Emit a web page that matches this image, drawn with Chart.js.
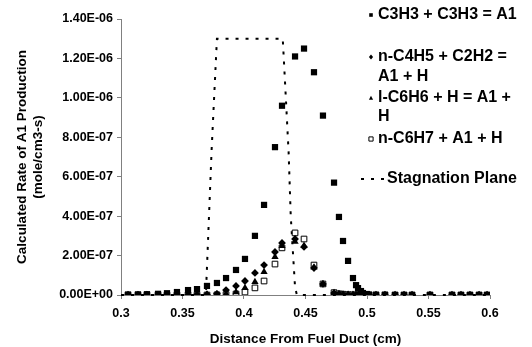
<!DOCTYPE html>
<html>
<head>
<meta charset="utf-8">
<script src="https://cdn.jsdelivr.net/npm/chart.js@4.4.0/dist/chart.umd.min.js"></script>
<style>
    html, body { margin: 0; padding: 0; background: #fff; }
    #wrap { width: 532px; height: 347px; }
</style>
</head>
<body>
<div id="wrap"><canvas id="rateChart" width="532" height="347"></canvas></div>
<script>
const distance = [
    0.3057, 0.3138, 0.3211, 0.3301, 0.3374, 0.3455, 0.3545, 0.3618, 0.3699, 0.3780,
    0.3854, 0.3935, 0.4008, 0.4089, 0.4163, 0.4252, 0.4309, 0.4415, 0.4488, 0.4569,
    0.4642, 0.4732, 0.4772, 0.4805, 0.4846, 0.4886, 0.4911, 0.4927, 0.4951, 0.4967,
    0.5000, 0.5016, 0.5073, 0.5146, 0.5228, 0.5301, 0.5366, 0.5512, 0.5691, 0.5764,
    0.5837, 0.5911, 0.5976
];
const c3h3Rate = [
    0.002e-6, 0.003e-6, 0.004e-6, 0.006e-6, 0.009e-6, 0.015e-6, 0.025e-6, 0.030e-6, 0.046e-6, 0.061e-6,
    0.086e-6, 0.127e-6, 0.183e-6, 0.300e-6, 0.457e-6, 0.750e-6, 0.960e-6, 1.210e-6, 1.250e-6, 1.130e-6,
    0.910e-6, 0.570e-6, 0.396e-6, 0.274e-6, 0.173e-6, 0.086e-6, 0.050e-6, 0.035e-6, 0.020e-6, 0.010e-6,
    0.005e-6, 0.002e-6, 0.001e-6, 0.001e-6, 0, 0, 0, 0, 0, 0,
    0, 0, 0
];
const nC4H5Rate = [
    0, 0, 0, 0, 0, 0.001e-6, 0.001e-6, 0.002e-6, 0.003e-6, 0.006e-6,
    0.025e-6, 0.046e-6, 0.071e-6, 0.112e-6, 0.152e-6, 0.218e-6, 0.264e-6, 0.284e-6, 0.244e-6, 0.137e-6,
    0.056e-6, 0.010e-6, 0.005e-6, 0.003e-6, 0.002e-6, 0.001e-6, 0.001e-6, 0, 0, 0,
    0, 0, 0, 0, 0, 0, 0, 0, 0, 0,
    0, 0, 0
];
const lC6H6Rate = [
    0, 0, 0, 0, 0, 0, 0, 0, 0.001e-6, 0.003e-6,
    0.006e-6, 0.015e-6, 0.036e-6, 0.066e-6, 0.117e-6, 0.193e-6, 0.249e-6, 0.270e-6, 0.250e-6, 0.140e-6,
    0.055e-6, 0.010e-6, 0.005e-6, 0.003e-6, 0.002e-6, 0.001e-6, 0, 0, 0, 0,
    0, 0, 0, 0, 0, 0, 0, 0, 0, 0,
    0, 0, 0
];
const nC6H7Rate = [
    0, 0, 0, 0, 0, 0, 0, 0, 0, 0.001e-6,
    0.002e-6, 0.005e-6, 0.015e-6, 0.036e-6, 0.071e-6, 0.157e-6, 0.239e-6, 0.315e-6, 0.284e-6, 0.152e-6,
    0.056e-6, 0.012e-6, 0.006e-6, 0.004e-6, 0.002e-6, 0.001e-6, 0, 0, 0, 0,
    0, 0, 0, 0, 0, 0, 0, 0, 0, 0,
    0, 0, 0
];
const stagnationX = [0.3, 0.369, 0.3737, 0.378, 0.4315, 0.4341, 0.4363, 0.438, 0.4415, 0.443, 0.6];
const stagnationY = [0, 0, 0.74e-6, 1.3e-6, 1.3e-6, 0.99e-6, 0.72e-6, 0.40e-6, 0.04e-6, 0, 0];

const xTickLabels = ['0.3', '0.35', '0.4', '0.45', '0.5', '0.55', '0.6'];
const yTickLabels = ['0.00E+00', '2.00E-07', '4.00E-07', '6.00E-07', '8.00E-07', '1.00E-06', '1.20E-06', '1.40E-06'];
const seriesNames = [
    ['C3H3 + C3H3 = A1'],
    ['n-C4H5 + C2H2 =', 'A1 + H'],
    ['l-C6H6 + H = A1 +', 'H'],
    ['n-C6H7 + A1 + H'],
    ['Stagnation Plane']
];

const FONT = '"Liberation Sans", Arial, sans-serif';

function toPoints(xs, ys) {
    return xs.map(function (x, i) { return { x: x, y: ys[i] }; });
}

// small marker shapes for the hand drawn legend
function drawMarker(ctx, style, x, y, r) {
    ctx.beginPath();
    if (style === 'rect' || style === 'openRect') {
        ctx.rect(x - r, y - r, 2 * r, 2 * r);
    } else if (style === 'diamond') {
        ctx.moveTo(x, y - r * 1.2);
        ctx.lineTo(x + r, y);
        ctx.lineTo(x, y + r * 1.2);
        ctx.lineTo(x - r, y);
        ctx.closePath();
    } else if (style === 'triangle') {
        ctx.moveTo(x, y - r * 1.1);
        ctx.lineTo(x + r, y + r * 0.8);
        ctx.lineTo(x - r, y + r * 0.8);
        ctx.closePath();
    }
    if (style === 'openRect') {
        ctx.fillStyle = '#fff';
        ctx.fill();
        ctx.lineWidth = 1;
        ctx.strokeStyle = '#000';
        ctx.stroke();
    } else {
        ctx.fillStyle = '#000';
        ctx.fill();
    }
}

const sideLegend = {
    id: 'sideLegend',
    afterDraw: function (chart) {
        const ctx = chart.ctx;
        const styles = ['rect', 'diamond', 'triangle', 'openRect', 'dash'];
        const rows = [[15], [57, 77], [98, 117], [139], [179]];
        ctx.save();
        ctx.font = 'bold 16px ' + FONT;
        ctx.textBaseline = 'middle';
        seriesNames.forEach(function (lines, i) {
            const y0 = rows[i][0];
            let textX = 378;
            if (styles[i] === 'dash') {
                ctx.beginPath();
                ctx.setLineDash([3, 7]);
                ctx.lineWidth = 2;
                ctx.strokeStyle = '#000';
                ctx.moveTo(361, y0);
                ctx.lineTo(385, y0);
                ctx.stroke();
                ctx.setLineDash([]);
                textX = 387;
            } else {
                drawMarker(ctx, styles[i], 371, y0, styles[i] === 'rect' ? 1.8 : 2.1);
            }
            ctx.fillStyle = '#000';
            lines.forEach(function (line, j) {
                ctx.fillText(line, textX, rows[i][j]);
            });
        });
        ctx.restore();
    }
};

document.addEventListener('DOMContentLoaded', function () {
    const ctx = document.getElementById('rateChart').getContext('2d');

    new Chart(ctx, {
        type: 'scatter',
        data: {
            datasets: [
                {
                    label: seriesNames[0].join(' '),
                    data: toPoints(distance, c3h3Rate),
                    pointStyle: 'rect',
                    pointRadius: 4.4,
                    borderWidth: 0,
                    backgroundColor: '#000',
                    borderColor: '#000'
                },
                {
                    label: seriesNames[1].join(' '),
                    data: toPoints(distance, nC4H5Rate),
                    pointStyle: 'rectRot',
                    pointRadius: 3.9,
                    borderWidth: 0,
                    backgroundColor: '#000',
                    borderColor: '#000'
                },
                {
                    label: seriesNames[2].join(' '),
                    data: toPoints(distance, lC6H6Rate),
                    pointStyle: 'triangle',
                    pointRadius: 4.2,
                    borderWidth: 0,
                    backgroundColor: '#000',
                    borderColor: '#000'
                },
                {
                    label: seriesNames[3].join(' '),
                    data: toPoints(distance, nC6H7Rate),
                    pointStyle: 'rect',
                    pointRadius: 4,
                    borderWidth: 1,
                    backgroundColor: '#fff',
                    borderColor: '#000'
                },
                {
                    label: seriesNames[4].join(' '),
                    data: toPoints(stagnationX, stagnationY),
                    showLine: true,
                    pointRadius: 0,
                    borderColor: '#000',
                    borderWidth: 2,
                    borderDash: [3, 7],
                    clip: 4
                }
            ]
        },
        options: {
            responsive: false,
            animation: false,
            events: [],
            layout: { padding: { left: 0, right: 42, top: 19, bottom: 0 } },
            plugins: {
                legend: { display: false },
                tooltip: { enabled: false }
            },
            scales: {
                x: {
                    type: 'linear',
                    min: 0.3,
                    max: 0.6,
                    ticks: {
                        stepSize: 0.05,
                        autoSkip: false,
                        maxRotation: 0,
                        padding: 7,
                        color: '#000',
                        font: { family: FONT, size: 12.5, weight: 'bold' },
                        callback: function (value) {
                            return xTickLabels[Math.round((value - 0.3) / 0.05)];
                        }
                    },
                    grid: { drawOnChartArea: false, tickLength: 4, color: '#808080' },
                    border: { color: '#808080', width: 1 },
                    title: {
                        display: true,
                        text: 'Distance From Fuel Duct (cm)',
                        color: '#000',
                        font: { family: FONT, size: 13.5, weight: 'bold', lineHeight: 1.2 },
                        padding: { top: 0, bottom: 0 }
                    },
                    afterFit: function (scale) { scale.height = 52; }
                },
                y: {
                    type: 'linear',
                    min: 0,
                    max: 1.4e-6,
                    ticks: {
                        stepSize: 2e-7,
                        autoSkip: false,
                        padding: 4,
                        color: '#000',
                        font: { family: FONT, size: 12.5, weight: 'bold' },
                        callback: function (value) {
                            return yTickLabels[Math.round(value / 2e-7)];
                        }
                    },
                    grid: { drawOnChartArea: false, tickLength: 4, color: '#808080' },
                    border: { color: '#808080', width: 1 },
                    title: {
                        display: true,
                        text: ['Calculated Rate of A1 Production', '(mole/cm3-s)'],
                        color: '#000',
                        font: { family: FONT, size: 13.5, weight: 'bold', lineHeight: 1.2 },
                        padding: { top: 14, bottom: 0 }
                    },
                    afterFit: function (scale) { scale.width = 121; }
                }
            }
        },
        plugins: [sideLegend]
    });
});
</script>
</body>
</html>
